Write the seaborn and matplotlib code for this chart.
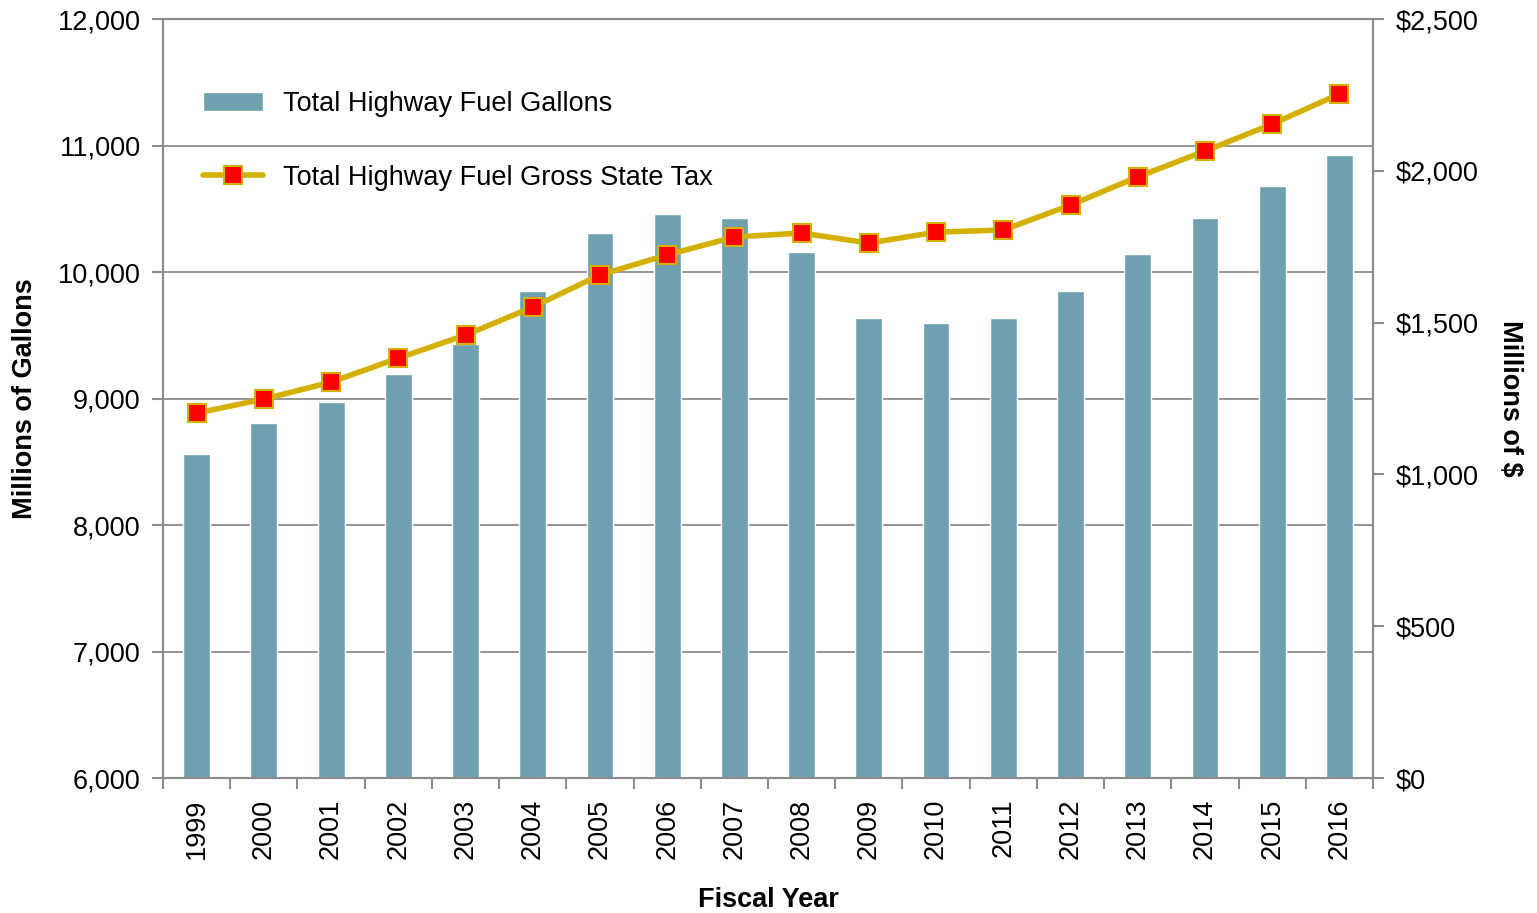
import matplotlib
matplotlib.use("Agg")
import matplotlib.pyplot as plt
import seaborn as sns
import numpy as np
from matplotlib.ticker import FuncFormatter, FixedLocator

years = ["1999", "2000", "2001", "2002", "2003", "2004", "2005", "2006", "2007",
         "2008", "2009", "2010", "2011", "2012", "2013", "2014", "2015", "2016"]
gallons = [8561, 8806, 8972, 9194, 9431, 9850, 10308, 10458, 10427,
           10158, 9636, 9597, 9636, 9850, 10142, 10427, 10680, 10925]
tax = [1202, 1248, 1304, 1383, 1459, 1551, 1657, 1723, 1782,
       1795, 1762, 1798, 1805, 1887, 1980, 2065, 2154, 2253]

bar_color = "#6FA0B0"
line_color = "#D4B000"
marker_color = "#FF0000"
gray = "#8C8C8C"

sns.set_theme(style="white")
plt.rcParams["font.family"] = ["Liberation Sans", "DejaVu Sans"]
plt.rcParams["text.color"] = "black"
plt.rcParams["axes.labelcolor"] = "black"
plt.rcParams["xtick.color"] = "black"
plt.rcParams["ytick.color"] = "black"

fig = plt.figure(figsize=(15.37, 9.13), dpi=100)
ax = fig.add_axes([163/1537, 1-778/913, (1373-163)/1537, (778-19)/913])

sns.barplot(x=years, y=gallons, ax=ax, color=bar_color, width=0.4,
            saturation=1, label="Total Highway Fuel Gallons", zorder=3)
ax.set_ylim(6000, 12000)
ax.set_xlim(-0.5, len(years) - 0.5)
ax.yaxis.set_major_locator(FixedLocator(np.arange(6000, 12001, 1000)))
ax.yaxis.set_major_formatter(FuncFormatter(lambda v, p: f"{int(v):,}"))
ax.grid(axis="y", color=gray, linewidth=1.3, zorder=0)
ax.set_axisbelow(True)

ax2 = ax.twinx()
sns.pointplot(x=years, y=tax, ax=ax2, color=line_color, markers="s",
              linewidth=4, markersize=13, label="Total Highway Fuel Gross State Tax")
for ln in ax2.lines:
    ln.set_markerfacecolor(marker_color)
    ln.set_markeredgecolor(line_color)
    ln.set_markeredgewidth(1.5)
ax2.set_ylim(0, 2500)
ax2.set_xlim(-0.5, len(years) - 0.5)
ax2.yaxis.set_major_locator(FixedLocator(np.arange(0, 2501, 500)))
ax2.yaxis.set_major_formatter(FuncFormatter(lambda v, p: f"${int(v):,}"))
ax2.grid(False)

fs = 19.5
ax.set_xticks(range(len(years)))
ax.set_xticklabels(years, rotation=90, fontsize=fs)
ax.set_xticks(np.arange(-0.5, len(years), 1), minor=True)
ax.tick_params(axis="x", which="major", length=0, pad=15, labelcolor="black")
ax.tick_params(axis="x", which="minor", length=8, width=1.5, color=gray, bottom=True, direction="out")
ax.tick_params(axis="y", labelsize=fs, length=8, width=1.5, color=gray, left=True, direction="out", pad=8, labelcolor="black")
ax2.tick_params(axis="y", labelsize=fs, length=8, width=1.5, color=gray, right=True, direction="out", pad=8, labelcolor="black")

for a in (ax, ax2):
    for s in a.spines.values():
        s.set_color(gray)
        s.set_linewidth(1.5)

ax.set_xlabel("Fiscal Year", fontsize=fs, fontweight="bold", labelpad=20, color="black")
ax.set_ylabel("Millions of Gallons", fontsize=fs, fontweight="bold", labelpad=14, color="black")
ax2.set_ylabel("Millions of $", fontsize=fs, fontweight="bold", rotation=270, labelpad=32, color="black")

if ax.get_legend() is not None:
    ax.get_legend().remove()
h1, l1 = ax.get_legend_handles_labels()
h2, l2 = ax2.get_legend_handles_labels()
leg = ax2.legend(h1 + h2, l1 + l2, loc="upper left", bbox_to_anchor=(0.013, 0.937),
                 frameon=False, fontsize=fs, labelspacing=1.75, handlelength=2.2,
                 handletextpad=0.75)
for t in leg.get_texts():
    t.set_color("black")

fig.savefig("out.png", dpi=100)
